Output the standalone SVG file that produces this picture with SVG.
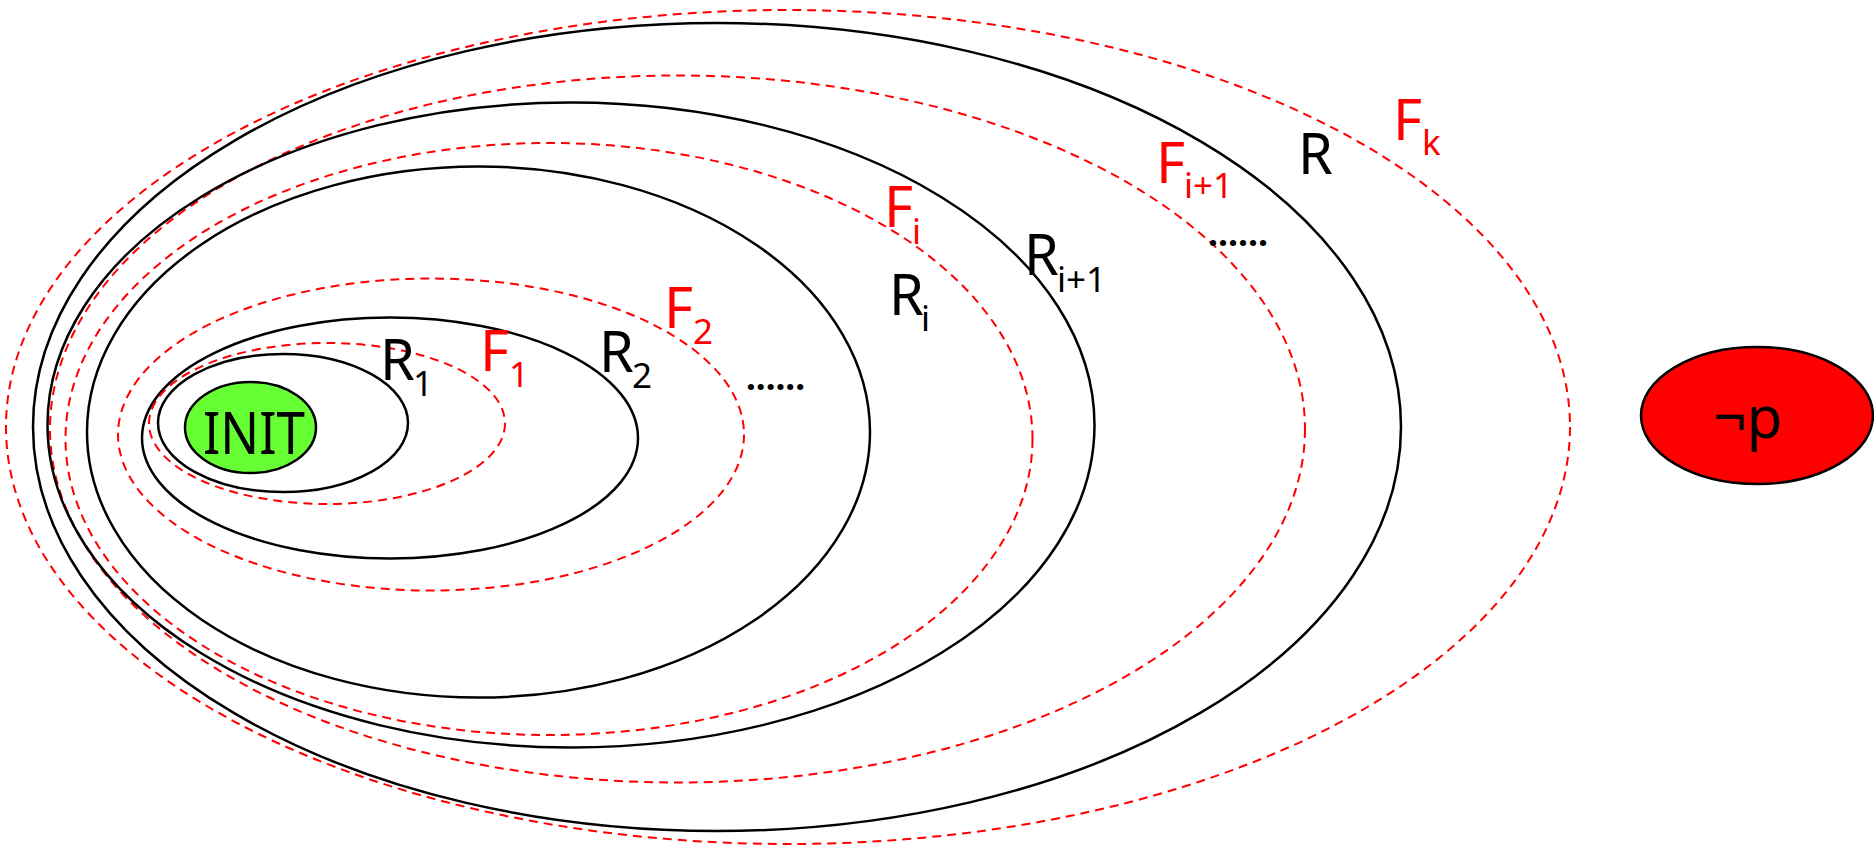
<svg xmlns="http://www.w3.org/2000/svg" width="1874" height="848" viewBox="0 0 1874 848">
<style>
.r{fill:none;stroke:#000;stroke-width:2.5}
.f{fill:none;stroke:#ff0000;stroke-width:2;stroke-dasharray:9 6}
.t{font-family:"Noto Sans","DejaVu Sans",sans-serif;font-size:56px}
.k{fill:#000}
.red{fill:#ff0000}
.s{font-size:35px}
.d{font-family:"Noto Sans","DejaVu Sans",sans-serif;font-size:36px;font-weight:bold;fill:#000}
</style>
<rect width="1874" height="848" fill="#fff"/>
<g id="Fk"><ellipse class="f" cx="788" cy="427" rx="782" ry="417"/>
<text class="t red" x="1393" y="140">F<tspan class="s" x="1422" y="155">k</tspan></text></g>
<g id="R"><ellipse class="r" cx="717" cy="427" rx="684" ry="404"/>
<text class="t k" x="1298" y="174">R</text></g>
<g id="Fi1"><ellipse class="f" cx="677.5" cy="429" rx="627.5" ry="353.5"/>
<text class="t red" x="1156" y="183">F<tspan class="s" x="1184" y="198">i+1</tspan></text>
<text class="d" x="1208" y="246" textLength="60" lengthAdjust="spacingAndGlyphs">......</text></g>
<g id="Ri1"><ellipse class="r" cx="571" cy="425" rx="523.5" ry="322.5"/>
<text class="t k" x="1024" y="275">R<tspan class="s" x="1057" y="292">i+1</tspan></text></g>
<g id="Fi"><ellipse class="f" cx="549" cy="439" rx="483.5" ry="296"/>
<text class="t red" x="884" y="227">F<tspan class="s" x="912" y="244">i</tspan></text></g>
<g id="Ri"><ellipse class="r" cx="478.5" cy="432" rx="391.5" ry="265.5"/>
<text class="t k" x="889" y="315">R<tspan class="s" x="921" y="331">i</tspan></text></g>
<g id="F2"><ellipse class="f" cx="431" cy="434.5" rx="313" ry="156"/>
<text class="t red" x="664" y="328">F<tspan class="s" x="693" y="344">2</tspan></text>
<text class="d" x="746" y="390" textLength="59" lengthAdjust="spacingAndGlyphs">......</text></g>
<g id="R2"><ellipse class="r" cx="390" cy="438" rx="248" ry="120.5"/>
<text class="t k" x="599" y="372">R<tspan class="s" x="632" y="388">2</tspan></text></g>
<g id="F1"><ellipse class="f" cx="327" cy="423.5" rx="178" ry="80.5"/>
<text class="t red" x="480" y="371">F<tspan class="s" x="509" y="387">1</tspan></text></g>
<g id="R1"><ellipse class="r" cx="283" cy="423" rx="125" ry="69"/>
<text class="t k" x="380" y="380">R<tspan class="s" x="413" y="396">1</tspan></text></g>
<g id="INIT"><ellipse cx="250.5" cy="427.5" rx="65.5" ry="45.5" fill="#66ff33" stroke="#000" stroke-width="2.5"/>
<text class="t k" x="254" y="454" text-anchor="middle" textLength="102" lengthAdjust="spacingAndGlyphs" style="font-size:58px">INIT</text></g>
<g id="notp"><ellipse cx="1757" cy="415.5" rx="116" ry="68.5" fill="#ff0000" stroke="#000" stroke-width="2.5"/>
<text class="t k" x="1748" y="438" text-anchor="middle" style="font-size:58px">¬p</text></g>
</svg>
